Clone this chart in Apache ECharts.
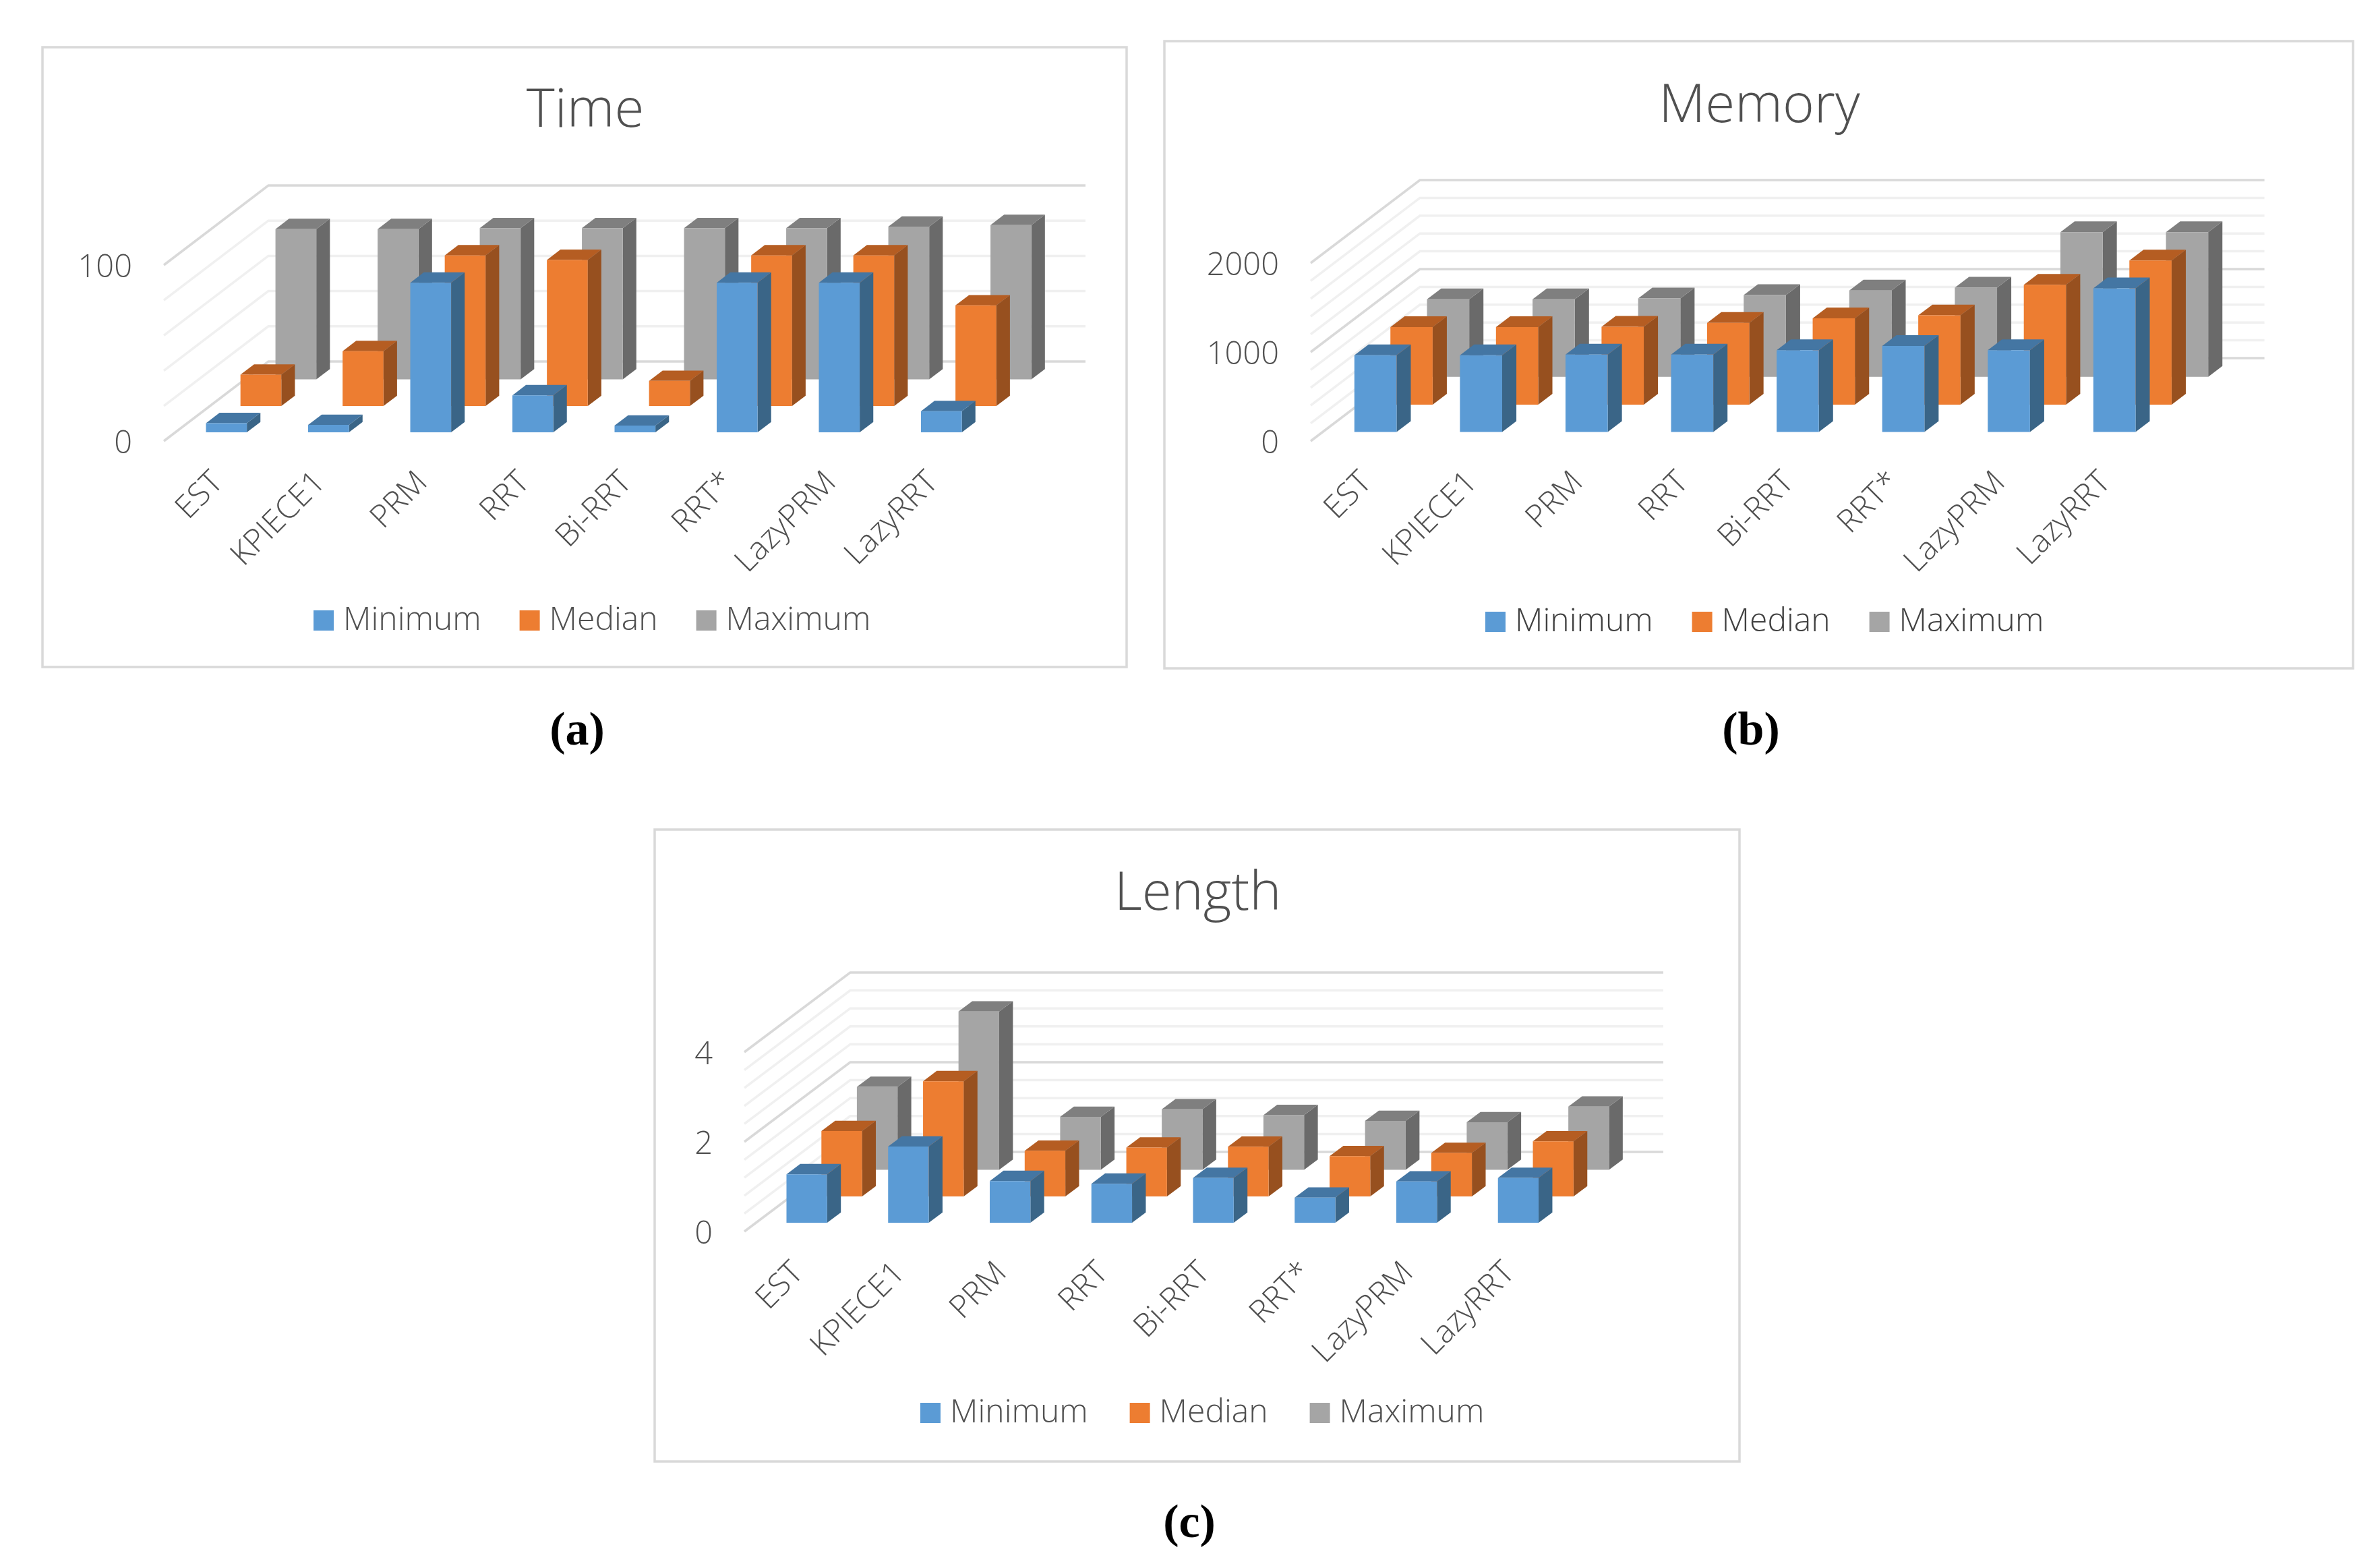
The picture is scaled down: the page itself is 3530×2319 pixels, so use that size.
<!DOCTYPE html>
<html><head><meta charset="utf-8">
<style>html,body{margin:0;padding:0;background:#fff}#c{width:3530px;height:2319px}</style>
<script src="https://cdn.jsdelivr.net/npm/echarts@6/dist/echarts.min.js"></script>
</head><body><div id="c"></div>
<script>
const categories = ['EST','KPIECE1','PRM','RRT','Bi-RRT','RRT*','LazyPRM','LazyRRT'];
const seriesNames = ['Minimum','Median','Maximum'];

const timeMinimum = [5.2,4.2,85,21,3.8,85,85,12];
const timeMedian  = [17.8,31.2,85.6,83,14.3,85.6,85.6,57.2];
const timeMaximum = [85.4,85.4,85.9,85.9,85.9,85.9,86.8,87.7];
const timeGrid    = [0,20,40,60,80,100];
const timeMajor   = [0,100];

const memoryMinimum = [861,861,870,870,918,965,918,1614];
const memoryMedian  = [870,870,875,918,969,1002,1346,1619];
const memoryMaximum = [870,870,880,918,969,1002,1624,1624];
const memoryGrid    = [0,200,400,600,800,1000,1200,1400,1600,1800,2000];
const memoryMajor   = [0,1000,2000];

const lengthMinimum = [1.08,1.70,0.93,0.87,1.00,0.56,0.92,1.00];
const lengthMedian  = [1.46,2.57,1.02,1.09,1.11,0.90,0.97,1.23];
const lengthMaximum = [1.85,3.53,1.18,1.35,1.22,1.09,1.06,1.41];
const lengthGrid    = [0,0.4,0.8,1.2,1.6,2,2.4,2.8,3.2,3.6,4];
const lengthMajor   = [0,2,4];

const face = [
  {front:'#5B9BD5', side:'#3A6587', top:'#4476A3'},
  {front:'#ED7D31', side:'#97501F', top:'#B55D22'},
  {front:'#A5A5A5', side:'#6A6A6A', top:'#7F7F7F'}
];
const slotFront = [0.11, 0.44, 0.775];
const barDepth = 0.13;
const barWidth = 0.40;

const panels = [
 {title:'Time', cap:'a', capX:851, capY:1081, box:[63,70,1608,919], plot:[243,393,1212,261], depth:[155,-118], max:100, major:100,
  grid:timeGrid, majors:timeMajor, vals:[timeMinimum,timeMedian,timeMaximum], titleY:160, legend:[460,891], legendGap:57, legendColor:'#505050'},
 {title:'Memory', cap:'b', capX:2592, capY:1081, box:[1727,61,1763,930], plot:[1944,390,1252.6,264], depth:[162,-123], max:2000, major:1000,
  grid:memoryGrid, majors:memoryMajor, vals:[memoryMinimum,memoryMedian,memoryMaximum], titleY:153, legend:[2198,893], legendGap:58, legendColor:'#404040'},
 {title:'Length', cap:'c', capX:1759, capY:2256, box:[971,1230,1609,937], plot:[1104,1560,1206,266], depth:[157,-118], max:4, major:2,
  grid:lengthGrid, majors:lengthMajor, vals:[lengthMinimum,lengthMedian,lengthMaximum], titleY:1321, legend:[1360,2066], legendGap:62, legendColor:'#505050'}
];

const FONT = '"Open Sans", sans-serif';
const option = {
  animation:false, backgroundColor:'#fff',
  title:[], legend:[], grid:[], xAxis:[], yAxis:[], series:[], graphic:[]
};

panels.forEach((p,pi)=>{
  option.graphic.push({type:'rect', silent:true, z:-10, shape:{x:p.box[0],y:p.box[1],width:p.box[2],height:p.box[3]},
    style:{fill:'#fff',stroke:'#D9D9D9',lineWidth:3.5}});
  option.title.push({text:p.title,left:p.box[0]+p.box[2]/2-4,top:p.titleY,textAlign:'center',textVerticalAlign:'middle',
    textStyle:{fontFamily:FONT,fontSize:80,fontWeight:300,color:'#505050'}});
  option.title.push({text:'{r|(}{b|'+p.cap+'}{r|)}',left:p.capX,top:p.capY,textAlign:'center',textVerticalAlign:'middle',
    textStyle:{rich:{r:{fontFamily:'"Liberation Serif"',fontSize:70,color:'#000'},b:{fontFamily:'"Liberation Serif"',fontSize:70,fontWeight:'bold',color:'#000'}}}});
  option.legend.push({data:seriesNames,left:p.legend[0],top:p.legend[1],orient:'horizontal',itemWidth:30,itemHeight:30,itemGap:p.legendGap,icon:'rect',
    selectedMode:false,textStyle:{fontFamily:FONT,fontSize:48,fontWeight:300,color:p.legendColor,padding:[0,0,0,9]}});
  option.grid.push({left:p.plot[0],top:p.plot[1],width:p.plot[2],height:p.plot[3],containLabel:false});
  option.xAxis.push({type:'category',gridIndex:pi,data:categories,axisLine:{show:false},axisTick:{show:false},splitLine:{show:false},
    axisLabel:{interval:0,rotate:45,margin:59,padding:[0,-7,0,0],fontFamily:FONT,fontSize:47,fontWeight:300,color:'#505050'}});
  option.yAxis.push({type:'value',gridIndex:pi,min:0,max:p.max,interval:p.major,axisLine:{show:false},axisTick:{show:false},splitLine:{show:false},
    axisLabel:{margin:47,color:'#505050',formatter:v=>'{v|'+v+'}',
      rich:{v:{fontFamily:FONT,fontSize:47,fontWeight:300,color:'#505050',padding:[10,0,0,0]}}}});

  // back wall and side wall grid lines
  option.series.push({type:'custom',name:'walls'+pi,xAxisIndex:pi,yAxisIndex:pi,silent:true,z:1,
    data:p.grid.map(v=>[0,v,p.majors.includes(v)?1:0]),
    renderItem:(params,api)=>{
      const cs=params.coordSys, y=api.coord([0,api.value(1)])[1];
      const dx=p.depth[0],dy=p.depth[1];
      return {type:'polyline',shape:{points:[[cs.x,y],[cs.x+dx,y+dy],[cs.x+cs.width+dx,y+dy]]},
        style:{fill:'none',stroke:api.value(2)?'#D9D9D9':'#F0F0F0',lineWidth:3.5}};
    }});

  // 3-D bars, drawn back to front
  seriesNames.forEach((name,si)=>{
    const f=face[si];
    option.series.push({type:'custom',name,xAxisIndex:pi,yAxisIndex:pi,silent:true,z:5-si,
      itemStyle:{color:f.front},
      data:p.vals[si].map((v,i)=>[i,v]),
      renderItem:(params,api)=>{
        const i=api.value(0),v=api.value(1);
        const base=api.coord([i,0]),topP=api.coord([i,v]);
        const w=api.size([1,0])[0]*barWidth;
        const ox=p.depth[0]*slotFront[si],oy=p.depth[1]*slotFront[si];
        const bx=p.depth[0]*barDepth,by=p.depth[1]*barDepth;
        const l=base[0]-w/2+ox,r=l+w,b=base[1]+oy,t=topP[1]+oy;
        return {type:'group',children:[
          {type:'polygon',shape:{points:[[r,b],[r+bx,b+by],[r+bx,t+by],[r,t]]},style:{fill:f.side}},
          {type:'polygon',shape:{points:[[l,t],[r,t],[r+bx,t+by],[l+bx,t+by]]},style:{fill:f.top}},
          {type:'rect',shape:{x:l,y:t,width:w,height:b-t},style:{fill:f.front}}
        ]};
      }});
  });
});

const chart = echarts.init(document.getElementById('c'),null,{renderer:'canvas'});
chart.setOption(option);
</script>
</body></html>
